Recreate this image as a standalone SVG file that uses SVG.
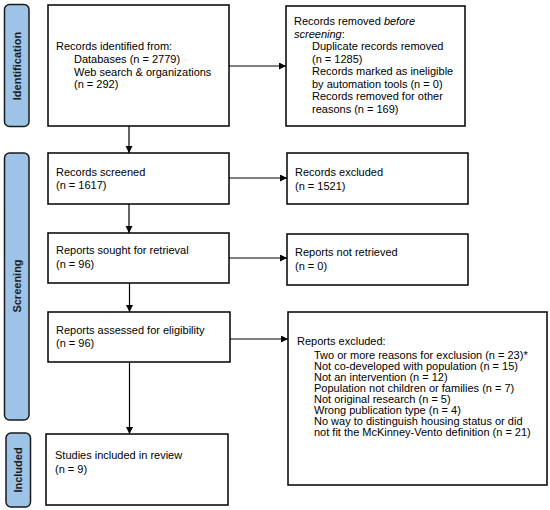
<svg xmlns="http://www.w3.org/2000/svg" width="550" height="510" viewBox="0 0 550 510">
<defs>
<marker id="ah" viewBox="0 0 10 10" refX="10" refY="5" markerWidth="7" markerHeight="7" markerUnits="userSpaceOnUse" orient="auto">
<path d="M0,0 L10,5 L0,10 z" fill="#000"/>
</marker>
</defs>
<style>
.box{fill:#fff;stroke:#000;stroke-width:1.5}
.bar{fill:#9dc3e6;stroke:#1a1a1a;stroke-width:1.5}
.t{font-family:"Liberation Sans",Arial,sans-serif;font-size:11px;fill:#000}
.bl{font-family:"Liberation Sans",Arial,sans-serif;font-size:11px;font-weight:bold;fill:#1a1a1a;text-anchor:middle}
.c{stroke:#000;stroke-width:1.2;fill:none;marker-end:url(#ah)}
</style>
<rect width="550" height="510" fill="#fff"/>
<g id="bar-identification">
<rect class="bar" x="4.5" y="4.5" width="24.5" height="122" rx="5"/>
<text class="bl" transform="translate(20.5,66) rotate(-90)">Identification</text>
</g>
<g id="bar-screening">
<rect class="bar" x="4.5" y="153" width="24.5" height="267" rx="5"/>
<text class="bl" transform="translate(20.5,286) rotate(-90)">Screening</text>
</g>
<g id="bar-included">
<rect class="bar" x="6" y="433" width="24.5" height="74" rx="5"/>
<text class="bl" transform="translate(22,470) rotate(-90)">Included</text>
</g>
<g id="n-identified">
<rect class="box" x="48" y="5" width="181" height="121"/>
<text class="t" x="56" y="50">Records identified from:</text>
<text class="t" x="74" y="63">Databases (n = 2779)</text>
<text class="t" x="74" y="75.5">Web search &amp; organizations</text>
<text class="t" x="74" y="88">(n = 292)</text>
</g>
<g id="n-removed">
<rect class="box" x="286" y="6" width="179" height="120"/>
<text class="t" x="294" y="25">Records removed <tspan font-style="italic">before</tspan></text>
<text class="t" x="294" y="37.5"><tspan font-style="italic">screening</tspan>:</text>
<text class="t" x="312" y="50">Duplicate records removed</text>
<text class="t" x="312" y="62.5">(n = 1285)</text>
<text class="t" x="312" y="75">Records marked as ineligible</text>
<text class="t" x="312" y="87.5">by automation tools (n = 0)</text>
<text class="t" x="312" y="100">Records removed for other</text>
<text class="t" x="312" y="112.5">reasons (n = 169)</text>
</g>
<g id="n-screened">
<rect class="box" x="48" y="153" width="181" height="51"/>
<text class="t" x="56" y="175.5">Records screened</text>
<text class="t" x="56" y="189">(n = 1617)</text>
</g>
<g id="n-excluded">
<rect class="box" x="287" y="153" width="181" height="51"/>
<text class="t" x="295" y="176">Records excluded</text>
<text class="t" x="295" y="189.5">(n = 1521)</text>
</g>
<g id="n-sought">
<rect class="box" x="48" y="233" width="181" height="50"/>
<text class="t" x="56" y="254">Reports sought for retrieval</text>
<text class="t" x="56" y="267.5">(n = 96)</text>
</g>
<g id="n-notretrieved">
<rect class="box" x="287" y="234" width="181" height="51"/>
<text class="t" x="295" y="256">Reports not retrieved</text>
<text class="t" x="295" y="269.5">(n = 0)</text>
</g>
<g id="n-assessed">
<rect class="box" x="48" y="312" width="182" height="50"/>
<text class="t" x="56" y="333.5">Reports assessed for eligibility</text>
<text class="t" x="56" y="347">(n = 96)</text>
</g>
<g id="n-reportsexcluded">
<rect class="box" x="288" y="312" width="259" height="173"/>
<text class="t" x="297" y="345">Reports excluded:</text>
<text class="t" x="314" y="358.5">Two or more reasons for exclusion (n = 23)*</text>
<text class="t" x="314" y="369.5">Not co-developed with population (n = 15)</text>
<text class="t" x="314" y="380.5">Not an intervention (n = 12)</text>
<text class="t" x="314" y="391.5">Population not children or families (n = 7)</text>
<text class="t" x="314" y="402.5">Not original research (n = 5)</text>
<text class="t" x="314" y="413.5">Wrong publication type (n = 4)</text>
<text class="t" x="314" y="424.5">No way to distinguish housing status or did</text>
<text class="t" x="314" y="435.5">not fit the McKinney-Vento definition (n = 21)</text>
</g>
<g id="n-included">
<rect class="box" x="46" y="434" width="182" height="71"/>
<text class="t" x="55" y="459">Studies included in review</text>
<text class="t" x="55" y="472.5">(n = 9)</text>
</g>
<g id="connectors">
<path class="c" d="M229,66 H286"/>
<path class="c" d="M129,126 V153"/>
<path class="c" d="M229,178 H287"/>
<path class="c" d="M129,204 V233"/>
<path class="c" d="M229,258 H287"/>
<path class="c" d="M129.5,283 V312"/>
<path class="c" d="M230,339 H288"/>
<path class="c" d="M129.5,362 V434"/>
</g>
</svg>
